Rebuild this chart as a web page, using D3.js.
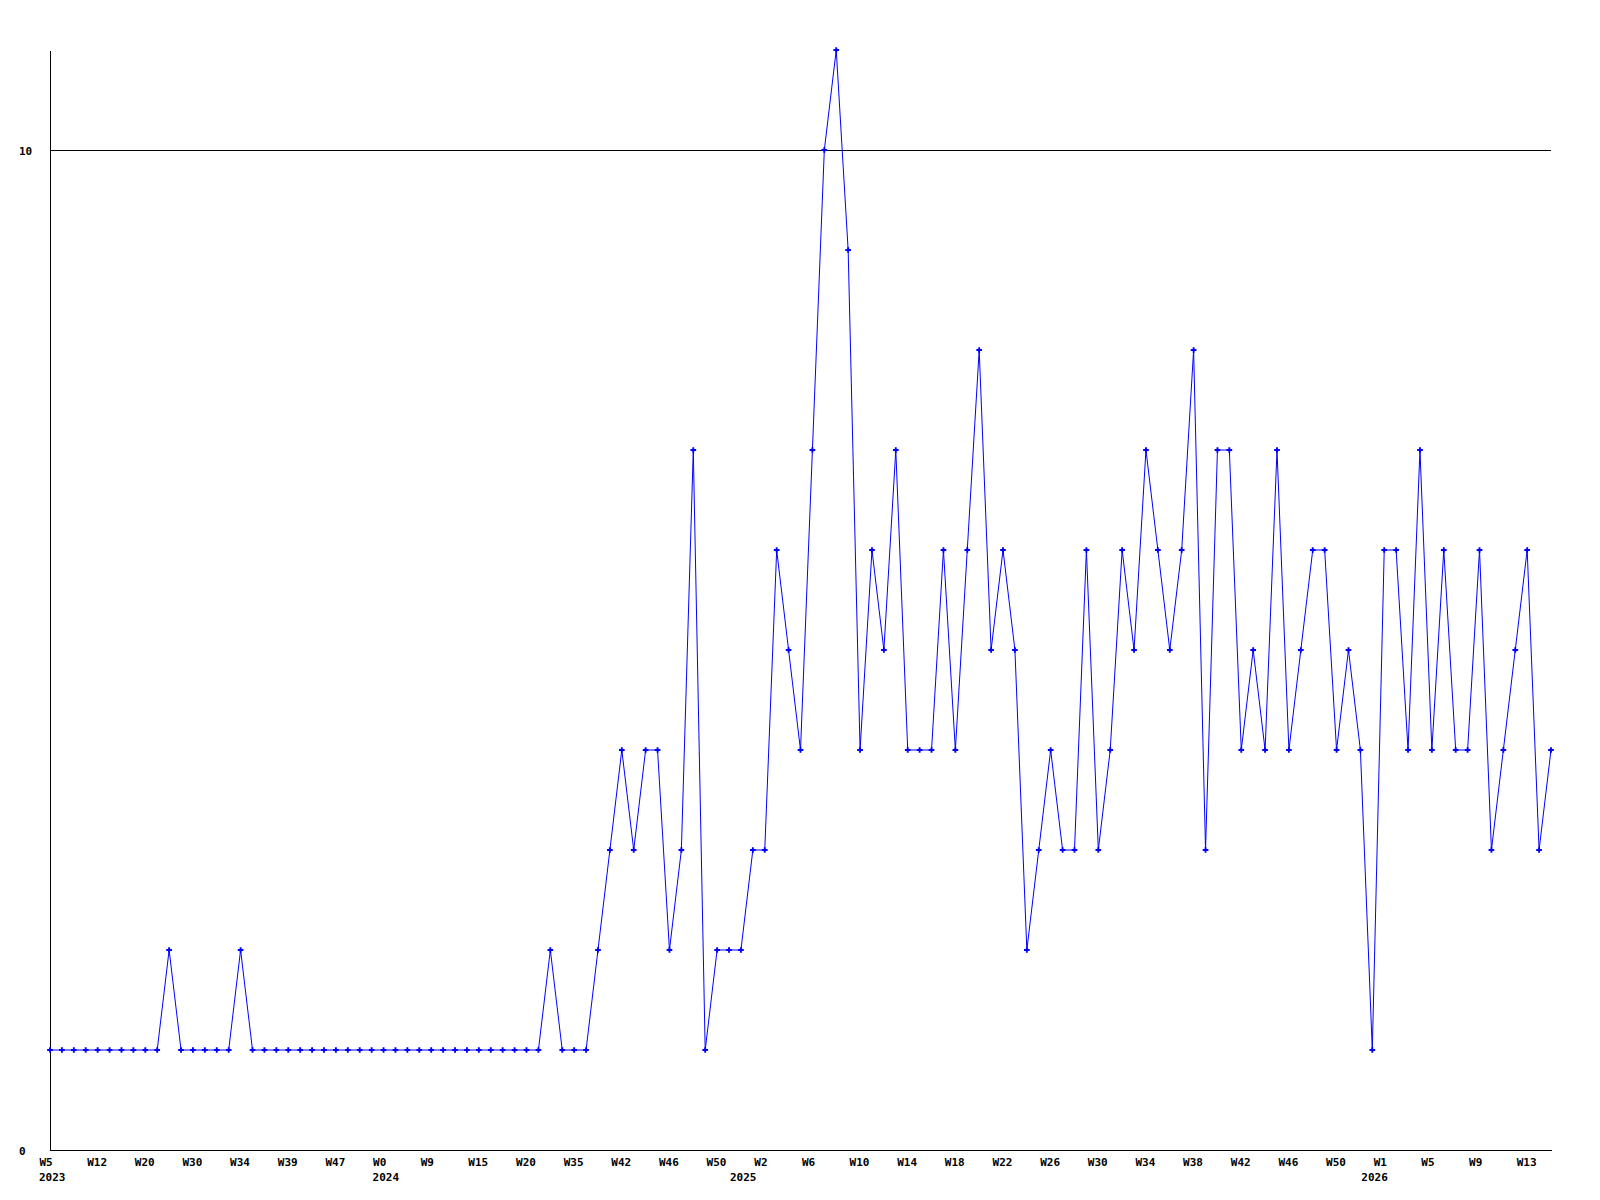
<!DOCTYPE html>
<html>
<head>
<meta charset="utf-8">
<script src="https://cdn.jsdelivr.net/npm/d3@7"></script>
<style>
  html, body { margin: 0; padding: 0; background: #fff; }
  .axis text, .year-label { font-family: "DejaVu Sans Mono", monospace; font-weight: bold; font-size: 11px; fill: #000; }
</style>
</head>
<body>
<div class="graph"></div>
<script>
// weekly counts, one value per category point
const values = [
    1, 1, 1, 1, 1, 1, 1, 1, 1, 1,
    2, 1, 1, 1, 1, 1, 2, 1, 1, 1,
    1, 1, 1, 1, 1, 1, 1, 1, 1, 1,
    1, 1, 1, 1, 1, 1, 1, 1, 1, 1,
    1, 1, 2, 1, 1, 1, 2, 3, 4, 3,
    4, 4, 2, 3, 7, 1, 2, 2, 2, 3,
    3, 6, 5, 4, 7, 10, 11, 9, 4, 6,
    5, 7, 4, 4, 4, 6, 4, 6, 8, 5,
    6, 5, 2, 3, 4, 3, 3, 6, 3, 4,
    6, 5, 7, 6, 5, 6, 8, 3, 7, 7,
    4, 5, 4, 7, 4, 5, 6, 6, 4, 5,
    4, 1, 6, 6, 4, 7, 4, 6, 4, 4,
    6, 3, 4, 5, 6, 3, 4
];
// labels shown on every 4th point
const tickLabels = [
    'W5', 'W12', 'W20', 'W30', 'W34', 'W39', 'W47', 'W0',
    'W9', 'W15', 'W20', 'W35', 'W42', 'W46', 'W50', 'W2',
    'W6', 'W10', 'W14', 'W18', 'W22', 'W26', 'W30', 'W34',
    'W38', 'W42', 'W46', 'W50', 'W1', 'W5', 'W9', 'W13'
];
const tickEvery = 4;
const years = ['2023', '2024', '2025', '2026'];
const yearStart = [0, 28, 58, 111];   // point index where each year begins
const yTicks = [0, 10];
const yMax = 11;

const width = 1600;
const height = 1200;
const margin = { top: 50, bottom: 50, left: 50, right: 49 };

const svg = d3.select('.graph')
    .append('svg')
    .attr('width', width)
    .attr('height', height);

const chartWidth = width - margin.left - margin.right;
const chartHeight = height - margin.top - margin.bottom;

const chart = svg.append('g')
    .attr('transform', `translate(${margin.left},${margin.top})`);

const xScale = d3.scaleLinear()
    .domain([0, values.length - 1])
    .range([0, chartWidth]);
const yScale = d3.scaleLinear()
    .domain([0, yMax])
    .range([chartHeight, 0]);

// gridline at 10
chart.selectAll('.grid')
    .data(yTicks.filter(d => d > 0))
    .enter()
    .append('line')
    .classed('grid', true)
    .attr('x1', 0)
    .attr('x2', chartWidth)
    .attr('y1', d => Math.round(yScale(d)) + 0.5)
    .attr('y2', d => Math.round(yScale(d)) + 0.5)
    .attr('stroke', '#000')
    .attr('stroke-width', 1);

const xAxis = d3.axisBottom(xScale)
    .tickValues(tickLabels.map((d, i) => i * tickEvery))
    .tickFormat((d, i) => tickLabels[i])
    .tickSize(0)
    .tickSizeOuter(0);
const gx = chart.append('g')
    .classed('x axis', true)
    .attr('transform', `translate(0,${chartHeight})`)
    .call(xAxis);
gx.select('.domain').attr('stroke', '#000').attr('shape-rendering', 'crispEdges');
// labels start a little left of their point
gx.selectAll('.tick text')
    .attr('text-anchor', 'start')
    .attr('x', -11)
    .attr('dy', 0)
    .attr('y', 16);

gx.selectAll('.year-label')
    .data(years)
    .enter()
    .append('text')
    .classed('year-label', true)
    .attr('x', (d, i) => xScale(yearStart[i]) - 11)
    .attr('y', 31)
    .attr('text-anchor', 'start')
    .text(d => d);

const yAxis = d3.axisLeft(yScale)
    .tickValues(yTicks)
    .tickSize(0)
    .tickSizeOuter(0);
const gy = chart.append('g')
    .classed('y axis', true)
    .call(yAxis);
gy.select('.domain').attr('stroke', '#000').attr('shape-rendering', 'crispEdges');
gy.selectAll('text')
    .attr('text-anchor', 'start')
    .attr('x', -31)
    .attr('dy', 4);

const line = d3.line()
    .x((d, i) => xScale(i))
    .y(d => yScale(d));

chart.append('path')
    .datum(values)
    .attr('fill', 'none')
    .attr('stroke', '#0000ff')
    .attr('stroke-width', 1)
    .attr('d', line);

chart.selectAll('.marker')
    .data(values)
    .enter()
    .append('path')
    .classed('marker', true)
    .attr('transform', (d, i) => `translate(${xScale(i)},${yScale(d)})`)
    .attr('d', d3.symbol(d3.symbolCross, 18))
    .attr('fill', '#0000ff');
</script>
</body>
</html>
